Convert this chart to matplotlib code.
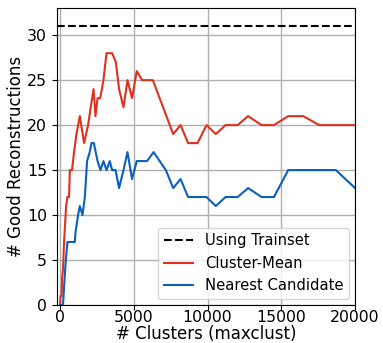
import numpy as np
import matplotlib
matplotlib.use('Agg')
import matplotlib.pyplot as plt

trainset_value = 31

mean_clusters = [0, 30, 100, 140, 200, 270, 410, 500, 610, 660, 810, 950, 1110,
                 1340, 1630, 1900, 2080, 2270, 2400, 2540, 2720, 2940, 3150,
                 3530, 3780, 4000, 4300, 4570, 4880, 5200, 5560, 6290, 7670,
                 8170, 8680, 9320, 9930, 10560, 11220, 12040, 12750, 13660,
                 14500, 15470, 16490, 17570, 20000]
mean_good = [0, 1, 1, 3, 4, 7, 11, 12, 12, 15, 15, 17, 19,
             21, 18, 20, 22, 24, 21, 23, 23, 25, 28,
             28, 27, 24, 22, 25, 23, 26, 25, 25, 19,
             20, 18, 18, 20, 19, 20, 20, 21, 20,
             20, 21, 21, 20, 20]

nearest_clusters = [0, 95, 200, 270, 390, 500, 1000, 1040, 1220, 1340, 1520,
                    1680, 1830, 2010, 2130, 2290, 2540, 2740, 2940, 3150, 3370,
                    3530, 3760, 4000, 4300, 4570, 4880, 5200, 5900, 6340, 7170,
                    7670, 8170, 8680, 9320, 9930, 10560, 11220, 12040, 12750,
                    13660, 14500, 15470, 16490, 17570, 18700, 20000]
nearest_good = [0, 0, 0, 2, 5, 7, 7, 8, 10, 11, 10,
                12, 16, 17, 18, 18, 16, 15, 16, 15, 16,
                15, 15, 13, 15, 17, 14, 16, 16, 17, 15,
                13, 14, 12, 12, 12, 11, 12, 12, 13,
                12, 12, 15, 15, 15, 15, 13]

fig = plt.figure(figsize=(3.83, 3.43), dpi=100)
ax = fig.add_axes([0.148, 0.111, 0.779, 0.865])

ax.axhline(trainset_value, color='black', linestyle='--', linewidth=1.5, label='Using Trainset')
ax.plot(mean_clusters, mean_good, color='#e0301e', linewidth=1.5, label='Cluster-Mean')
ax.plot(nearest_clusters, nearest_good, color='#0a5fbf', linewidth=1.5, label='Nearest Candidate')

ax.set_xlim(-230, 20000)
ax.set_ylim(0, 33)
ax.set_xticks([0, 5000, 10000, 15000, 20000])
ax.set_yticks([0, 5, 10, 15, 20, 25, 30])
ax.tick_params(labelsize=11.3)
ax.tick_params(axis='x', pad=0.5)
ax.grid(True, color='#b0b0b0', linewidth=1)
ax.set_xlabel('# Clusters (maxclust)', fontsize=12, labelpad=0)
ax.set_ylabel('# Good Reconstructions', fontsize=12, labelpad=1)
ax.legend(loc='lower right', fontsize=10.6, borderaxespad=0.4)

fig.savefig('out.png', dpi=100)
